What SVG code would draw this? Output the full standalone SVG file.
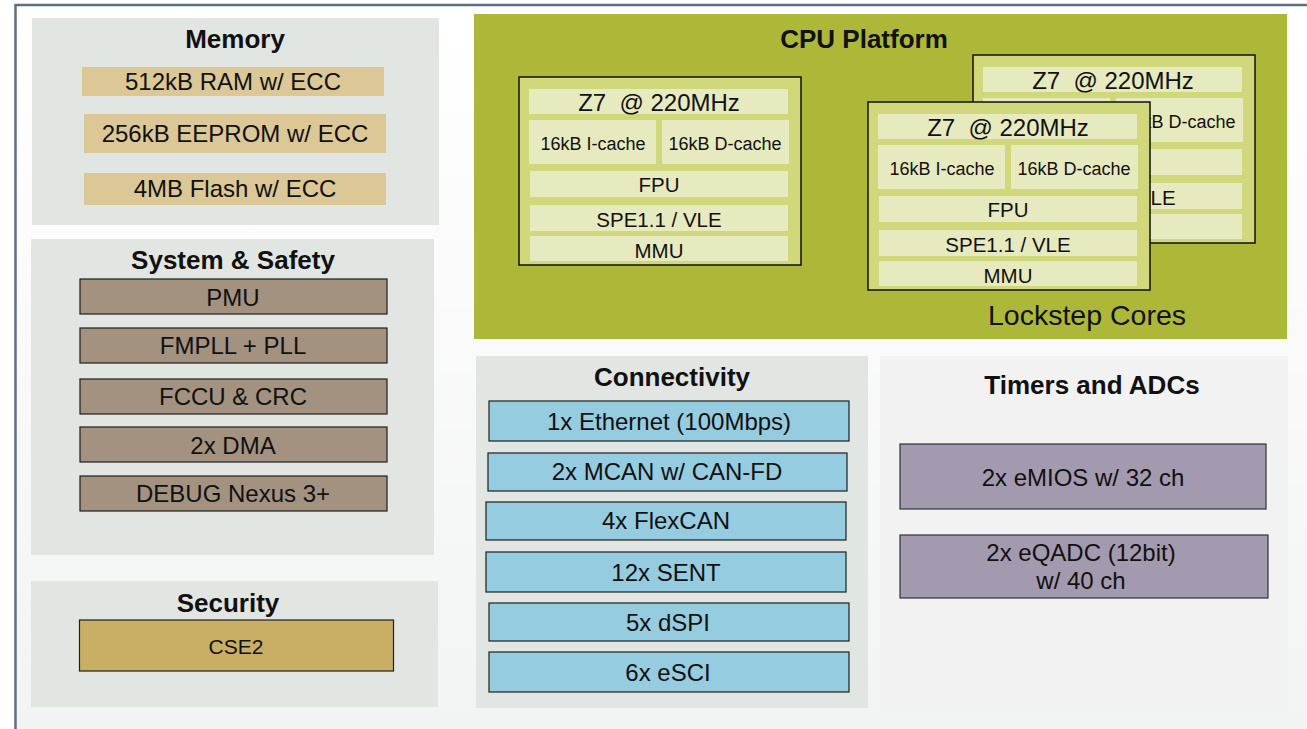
<svg xmlns="http://www.w3.org/2000/svg" xmlns:xlink="http://www.w3.org/1999/xlink" width="1307" height="729" viewBox="0 0 1307 729">
  <style>
    text { font-family: "Liberation Sans", Arial, sans-serif; fill: #111; text-anchor: middle; }
    .title { font-size: 26px; font-weight: bold; }
    .item { font-size: 24px; }
    .panel { fill: #e1e6e3; }
    .mem { fill: #dbc896; }
    .sys { fill: #a39280; stroke: #1e1e1e; stroke-width: 1.2; }
    .sec { fill: #c9ae65; stroke: #1e1e1e; stroke-width: 1.2; }
    .con { fill: #96cce0; stroke: #1e1e1e; stroke-width: 1.2; }
    .tmr { fill: #a39aaf; stroke: #333; stroke-width: 1.2; }
    .core { fill: #d1d77b; stroke: #111; stroke-width: 1.5; }
    .row { fill: #e7eabf; }
    .z7 { font-size: 24px; }
    .cache { font-size: 18px; }
    .unit { font-size: 20.5px; }
  </style>
  <defs>
    <linearGradient id="bg" x1="0" y1="0" x2="0" y2="1">
      <stop offset="0" stop-color="#ffffff"/>
      <stop offset="1" stop-color="#f2f4f3"/>
    </linearGradient>
    <!-- one e200z7 core tile, origin at its top-left corner -->
    <g id="coreTile">
      <rect class="core" x="0" y="0" width="282" height="188"/>
      <rect class="row" x="10" y="12" width="259" height="25"/>
      <text class="z7" x="140" y="34" xml:space="preserve">Z7  @ 220MHz</text>
      <rect class="row" x="10" y="43" width="127" height="44"/>
      <text class="cache" x="74" y="73">16kB I-cache</text>
      <rect class="row" x="143" y="43" width="127" height="44"/>
      <text class="cache" x="206" y="73">16kB D-cache</text>
      <rect class="row" x="11" y="94" width="258" height="26"/>
      <text class="unit" x="140" y="115">FPU</text>
      <rect class="row" x="11" y="128" width="258" height="26"/>
      <text class="unit" x="140" y="150">SPE1.1 / VLE</text>
      <rect class="row" x="11" y="159" width="258" height="25"/>
      <text class="unit" x="140" y="181">MMU</text>
    </g>
  </defs>

  <!-- page background and frame -->
  <rect x="0" y="0" width="1307" height="729" fill="#ffffff"/>
  <rect x="15" y="5" width="1292" height="724" fill="url(#bg)"/>
  <line x1="15" y1="5" x2="1307" y2="5" stroke="#5c6f83" stroke-width="2.5"/>
  <line x1="15.5" y1="4" x2="15.5" y2="729" stroke="#5c6f83" stroke-width="2.5"/>

  <!-- Memory -->
  <g id="memory">
    <rect class="panel" x="32" y="18" width="407" height="207"/>
    <text class="title" x="235" y="48">Memory</text>
    <rect class="mem" x="82" y="67" width="302" height="29"/>
    <text class="item" x="233" y="90">512kB RAM w/ ECC</text>
    <rect class="mem" x="84" y="114" width="302" height="39"/>
    <text class="item" x="235" y="142">256kB EEPROM w/ ECC</text>
    <rect class="mem" x="84" y="173" width="302" height="32"/>
    <text class="item" x="235" y="197">4MB Flash w/ ECC</text>
  </g>

  <!-- System & Safety -->
  <g id="system-safety">
    <rect class="panel" x="31" y="239" width="403" height="316"/>
    <text class="title" x="233" y="269">System &amp; Safety</text>
    <rect class="sys" x="80" y="279" width="307" height="35"/>
    <text class="item" x="233" y="306">PMU</text>
    <rect class="sys" x="80" y="328" width="307" height="35"/>
    <text class="item" x="233" y="354">FMPLL + PLL</text>
    <rect class="sys" x="80" y="379" width="307" height="35"/>
    <text class="item" x="233" y="405">FCCU &amp; CRC</text>
    <rect class="sys" x="80" y="427" width="307" height="35"/>
    <text class="item" x="233" y="454">2x DMA</text>
    <rect class="sys" x="80" y="476" width="307" height="35"/>
    <text class="item" x="233" y="502">DEBUG Nexus 3+</text>
  </g>

  <!-- Security -->
  <g id="security">
    <rect class="panel" x="31" y="581" width="407" height="126"/>
    <text class="title" x="228" y="612">Security</text>
    <rect class="sec" x="79.5" y="620" width="314" height="51"/>
    <text x="236" y="654" style="font-size:21px">CSE2</text>
  </g>

  <!-- CPU Platform with lockstep cores -->
  <g id="cpu-platform">
    <rect x="474" y="14" width="813" height="325" fill="#adb839"/>
    <text class="title" x="864" y="48">CPU Platform</text>
    <use xlink:href="#coreTile" href="#coreTile" x="519" y="77"/>
    <use xlink:href="#coreTile" href="#coreTile" x="973" y="55"/>
    <use xlink:href="#coreTile" href="#coreTile" x="868" y="102"/>
    <text x="1087" y="325" style="font-size:28.5px">Lockstep Cores</text>
  </g>

  <!-- Connectivity -->
  <g id="connectivity">
    <rect class="panel" x="476" y="356" width="392" height="352"/>
    <text class="title" x="672" y="386">Connectivity</text>
    <rect class="con" x="489" y="401" width="360" height="40"/>
    <text class="item" x="669" y="430">1x Ethernet (100Mbps)</text>
    <rect class="con" x="488" y="453" width="359" height="38"/>
    <text class="item" x="667" y="480">2x MCAN w/ CAN-FD</text>
    <rect class="con" x="486" y="502" width="360" height="38"/>
    <text class="item" x="666" y="529">4x FlexCAN</text>
    <rect class="con" x="486" y="552" width="360" height="40"/>
    <text class="item" x="666" y="581">12x SENT</text>
    <rect class="con" x="489" y="603" width="360" height="38"/>
    <text class="item" x="668" y="631">5x dSPI</text>
    <rect class="con" x="489" y="652" width="360" height="40"/>
    <text class="item" x="668" y="681">6x eSCI</text>
  </g>

  <!-- Timers and ADCs -->
  <g id="timers-adcs">
    <rect x="880" y="356" width="408" height="356" fill="#f2f2f2"/>
    <text class="title" x="1092" y="394">Timers and ADCs</text>
    <rect class="tmr" x="900" y="444" width="366" height="65"/>
    <text class="item" x="1083" y="486">2x eMIOS w/ 32 ch</text>
    <rect class="tmr" x="900" y="535" width="368" height="63"/>
    <text class="item" x="1081" y="561">2x eQADC (12bit)</text>
    <text class="item" x="1081" y="589">w/ 40 ch</text>
  </g>
</svg>
